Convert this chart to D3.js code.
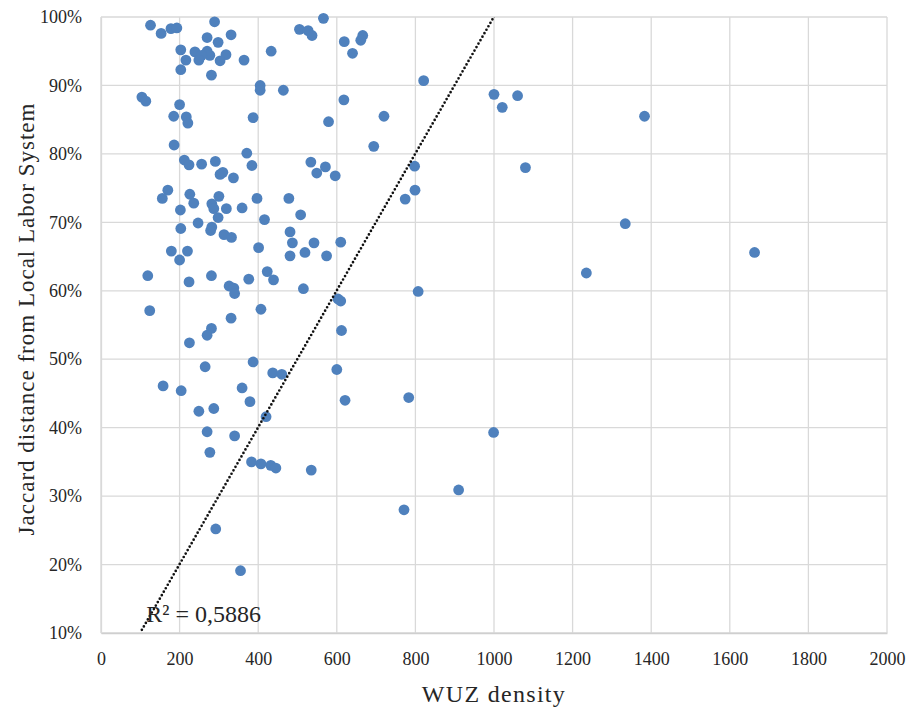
<!DOCTYPE html>
<html>
<head>
<meta charset="utf-8">
<script src="https://cdn.jsdelivr.net/npm/d3@7"></script>
<style>
  body { margin: 0; background: #fff; }
  svg text { fill: #262626; font-family: "Liberation Serif", serif; }
</style>
</head>
<body>
<svg id="chart" width="914" height="711"></svg>
<script>
const serif = '"Liberation Serif", serif';

// WUZ density per local labour system (x)
const wuzDensity = [
  126, 153, 178, 193, 289, 331, 270, 298, 203, 239,
  270, 277, 256, 249, 216, 318, 303, 364, 203, 281,
  433, 505, 527, 537, 566, 619, 666, 661, 640, 405,
  405, 464, 104, 114, 200, 185, 217, 221, 387, 618,
  579, 720, 694, 186, 212, 224, 256, 291, 371, 384,
  303, 310, 337, 534, 571, 549, 596, 170, 156, 226,
  236, 300, 282, 287, 319, 359, 397, 478, 202, 508,
  298, 416, 247, 203, 282, 279, 313, 332, 401, 481,
  487, 542, 610, 519, 481, 574, 179, 220, 200, 119,
  224, 281, 326, 338, 340, 376, 423, 439, 515, 603,
  610, 124, 407, 331, 281, 270, 612, 225, 387, 265,
  437, 460, 600, 158, 204, 359, 379, 249, 287, 621,
  420, 270, 340, 277, 383, 407, 432, 445, 535, 292,
  355, 821, 1000, 1021, 1060, 1383, 798, 1080, 799, 774,
  1334, 1235, 807, 783, 999, 910, 771, 1663
];

// Jaccard distance from the local labour system (y)
const jaccardDistance = [
  0.988, 0.976, 0.983, 0.984, 0.993, 0.974, 0.970, 0.963, 0.952, 0.949,
  0.950, 0.944, 0.944, 0.937, 0.937, 0.945, 0.936, 0.937, 0.923, 0.915,
  0.950, 0.982, 0.980, 0.973, 0.998, 0.964, 0.973, 0.966, 0.947, 0.900,
  0.893, 0.893, 0.883, 0.877, 0.872, 0.855, 0.854, 0.845, 0.853, 0.879,
  0.847, 0.855, 0.811, 0.813, 0.791, 0.784, 0.785, 0.789, 0.801, 0.783,
  0.770, 0.773, 0.765, 0.788, 0.781, 0.772, 0.768, 0.747, 0.735, 0.741,
  0.728, 0.738, 0.727, 0.720, 0.720, 0.721, 0.735, 0.735, 0.718, 0.711,
  0.707, 0.704, 0.699, 0.691, 0.693, 0.688, 0.682, 0.678, 0.663, 0.686,
  0.670, 0.670, 0.671, 0.656, 0.651, 0.651, 0.658, 0.658, 0.645, 0.622,
  0.613, 0.622, 0.607, 0.604, 0.596, 0.617, 0.628, 0.616, 0.603, 0.588,
  0.585, 0.571, 0.573, 0.560, 0.545, 0.535, 0.542, 0.524, 0.496, 0.489,
  0.480, 0.478, 0.485, 0.461, 0.454, 0.458, 0.438, 0.424, 0.428, 0.440,
  0.416, 0.394, 0.388, 0.364, 0.350, 0.347, 0.345, 0.341, 0.338, 0.252,
  0.191, 0.907, 0.887, 0.868, 0.885, 0.855, 0.782, 0.780, 0.747, 0.734,
  0.698, 0.626, 0.599, 0.444, 0.393, 0.309, 0.280, 0.656
];

// linear trendline (Excel) and its label
const trendSlope = 0.001;
const trendIntercept = 0.0006;
const trendLabel = 'R² = 0,5886';

const xTicks = [0, 200, 400, 600, 800, 1000, 1200, 1400, 1600, 1800, 2000];
const yTicks = [0.1, 0.2, 0.3, 0.4, 0.5, 0.6, 0.7, 0.8, 0.9, 1.0];

const xTitle = 'WUZ density';
const yTitle = 'Jaccard distance from Local Labor System';

const data = wuzDensity.map((x, i) => ({x: x, y: jaccardDistance[i]}));

const svg = d3.select('#chart');
const margin = {left: 101, right: 27, top: 17, bottom: 78};
const width = 914 - margin.left - margin.right;
const height = 711 - margin.top - margin.bottom;

const xScale = d3.scaleLinear().domain([0, 2000]).range([0, width]);
const yScale = d3.scaleLinear().domain([0.1, 1.0]).range([height, 0]);

const g = svg.append('g')
  .attr('transform', `translate(${margin.left},${margin.top})`);

// gridlines
g.append('g')
  .selectAll('line.hgrid').data(yTicks).enter()
  .append('line')
    .attr('class', 'hgrid')
    .attr('x1', 0).attr('x2', width)
    .attr('y1', d => yScale(d)).attr('y2', d => yScale(d))
    .attr('stroke', '#d9d9d9').attr('stroke-width', 1.3);

g.append('g')
  .selectAll('line.vgrid').data(xTicks).enter()
  .append('line')
    .attr('class', 'vgrid')
    .attr('y1', 0).attr('y2', height)
    .attr('x1', d => xScale(d)).attr('x2', d => xScale(d))
    .attr('stroke', '#d9d9d9').attr('stroke-width', 1.3);

// axes
const xAxis = d3.axisBottom(xScale)
  .tickValues(xTicks)
  .tickSize(0)
  .tickPadding(19)
  .tickFormat(d3.format('d'));

const xAxisG = g.append('g')
  .attr('class', 'x-axis')
  .attr('transform', `translate(0,${height})`)
  .call(xAxis)
  .attr('font-family', serif)
  .attr('font-size', 18);
xAxisG.select('.domain').attr('stroke', '#cfcfcf').attr('stroke-width', 1.3);
xAxisG.selectAll('text').attr('fill', '#262626');

const yAxis = d3.axisLeft(yScale)
  .tickValues(yTicks)
  .tickSize(0)
  .tickPadding(19)
  .tickFormat(d3.format('.0%'));

const yAxisG = g.append('g')
  .attr('class', 'y-axis')
  .call(yAxis)
  .attr('font-family', serif)
  .attr('font-size', 18);
yAxisG.select('.domain').attr('stroke', '#d9d9d9').attr('stroke-width', 1.3);
yAxisG.selectAll('text').attr('fill', '#262626');

// points
g.append('g')
  .selectAll('circle').data(data).enter()
  .append('circle')
    .attr('cx', d => xScale(d.x))
    .attr('cy', d => yScale(d.y))
    .attr('r', 5.4)
    .attr('fill', '#4f81bd');

// trendline, clipped to the plot area
svg.append('clipPath').attr('id', 'plot-clip')
  .append('rect').attr('width', width).attr('height', height);

const xExtent = d3.extent(wuzDensity);
const trendPoints = xExtent.map(x => ({x: x, y: trendIntercept + trendSlope * x}));

g.append('path')
  .datum(trendPoints)
  .attr('clip-path', 'url(#plot-clip)')
  .attr('fill', 'none')
  .attr('stroke', '#111')
  .attr('stroke-width', 2.7)
  .attr('stroke-linecap', 'round')
  .attr('stroke-dasharray', '0 4')
  .attr('d', d3.line().x(d => xScale(d.x)).y(d => yScale(d.y)));

g.append('text')
  .attr('x', xScale(115))
  .attr('y', yScale(0.116))
  .attr('font-family', serif)
  .attr('font-size', 24)
  .text(trendLabel);

// axis titles
svg.append('text')
  .attr('x', margin.left + width / 2)
  .attr('y', 702)
  .attr('text-anchor', 'middle')
  .attr('font-family', serif)
  .attr('font-size', 24)
  .attr('letter-spacing', 1.3)
  .text(xTitle);

svg.append('text')
  .attr('transform', `translate(34,319) rotate(-90)`)
  .attr('text-anchor', 'middle')
  .attr('font-family', serif)
  .attr('font-size', 23)
  .attr('letter-spacing', 1)
  .text(yTitle);
</script>
</body>
</html>
